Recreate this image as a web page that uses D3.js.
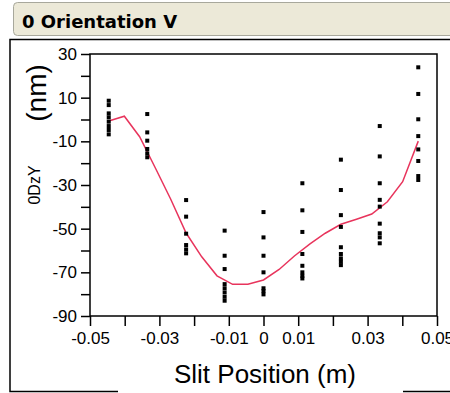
<!DOCTYPE html>
<html>
<head>
<meta charset="UTF-8">
<style>
  body { margin: 0; padding: 0; background: #fff; overflow: hidden; }
  svg { display: block; }
</style>
</head>
<body>
<div id="chart"></div>
<script src="https://cdn.jsdelivr.net/npm/d3@7"></script>
<script>
  // slit positions (m) where the measurements were taken
  const slitPos = [-0.0446, -0.0335, -0.0223, -0.0112, 0, 0.0112, 0.0223, 0.0335, 0.0446];

  // measured 0DzY (nm) at each slit position
  const col1 = [8.6, 6.6, 2.8, 1.0, -1.0, -3.0, -4.8, -6.8];
  const col2 = [2.5, -5.9, -9.7, -13.5, -15.5, -17.3];
  const col3 = [-36.9, -44.5, -52.3, -57.5, -59.5, -61.3];
  const col4 = [-50.9, -62.4, -68.5, -75.4, -77.3, -79.2, -81.2, -83.0];
  const col5 = [-42.4, -54.0, -62.4, -70.0, -77.3, -78.6, -80.1];
  const col6 = [-29.2, -41.6, -51.5, -61.6, -67.0, -70.0, -71.6, -72.8];
  const col7 = [-18.4, -32.3, -43.8, -49.2, -58.5, -61.6, -63.6, -65.1, -66.7];
  const col8 = [-3.0, -16.9, -29.2, -36.8, -39.9, -47.7, -52.1, -54.0, -56.7];
  const col9 = [23.9, 11.7, 0.1, -7.6, -13.7, -19.0, -25.9, -27.7];
  const columns = [col1, col2, col3, col4, col5, col6, col7, col8, col9];

  // fitted curve
  const fitX = [-0.0446, -0.0401, -0.0357, -0.0312, -0.0268, -0.0223, -0.0178, -0.0134, -0.0089, -0.0045, 0,
                0.0045, 0.0089, 0.0134, 0.0178, 0.0223, 0.0268, 0.0312, 0.0357, 0.0401, 0.0446];
  const fitY = [-0.7, 1.5, -7.9, -22.1, -36.3, -52.0, -62.9, -71.6, -75.5, -75.5, -73.5,
                -68.7, -62.5, -57.0, -52.1, -48.0, -45.7, -43.3, -37.7, -28.5, -9.9];

  const yTicks = d3.range(-90, 31, 10);
  const yLabels = [30, 10, -10, -30, -50, -70, -90];
  const xTicks = d3.range(-0.05, 0.0501, 0.01).map(v => +v.toFixed(2));
  const xLabels = [-0.05, -0.03, -0.01, 0, 0.01, 0.03, 0.05];

  const W = 450, H = 393;
  const svg = d3.select("#chart").append("svg").attr("width", W).attr("height", H);

  // title bar
  svg.append("rect")
    .attr("x", 13.5).attr("y", 2.5).attr("width", 450).attr("height", 33)
    .attr("rx", 4)
    .attr("fill", "#ece9d8").attr("stroke", "#a8a89c");
  svg.append("text")
    .attr("x", 22).attr("y", 28)
    .style("font-family", "DejaVu Sans").style("font-weight", "bold").style("font-size", "18px")
    .attr("fill", "#000")
    .text("0 Orientation V");

  // outer frame
  svg.append("rect")
    .attr("x", 10).attr("y", 39.5).attr("width", 460).attr("height", 352)
    .attr("fill", "none").attr("stroke", "#000").attr("stroke-width", 1.5);

  const x = d3.scaleLinear().domain([-0.05, 0.05]).range([90, 437]);
  const y = d3.scaleLinear().domain([-90, 30]).range([316, 54]);

  // plot box
  svg.append("rect")
    .attr("x", x(-0.05)).attr("y", y(30))
    .attr("width", x(0.05) - x(-0.05)).attr("height", y(-90) - y(30))
    .attr("fill", "none").attr("stroke", "#000").attr("stroke-width", 1.5);

  const font = "'Liberation Sans', Arial, sans-serif";

  // y axis
  const yAxis = svg.append("g").attr("transform", `translate(${x(-0.05)},0)`)
    .call(d3.axisLeft(y).tickValues(yTicks).tickSize(9)
      .tickFormat(d => yLabels.includes(d) ? d : ""));
  yAxis.select(".domain").remove();
  yAxis.selectAll("line").attr("stroke", "#000").attr("stroke-width", 1.5);
  yAxis.selectAll("text").style("font-family", font).style("font-size", "17px").attr("fill", "#000").attr("x", -13);

  // x axis
  const xAxis = svg.append("g").attr("transform", `translate(0,${y(-90)})`)
    .call(d3.axisBottom(x).tickValues(xTicks).tickSize(10)
      .tickFormat(d => xLabels.includes(d) ? d3.format("")(d) : ""));
  xAxis.select(".domain").remove();
  xAxis.selectAll("line").attr("stroke", "#000").attr("stroke-width", 1.5);
  xAxis.selectAll("text").style("font-family", font).style("font-size", "17px").attr("fill", "#000")
    .attr("y", 16).attr("dy", "0.71em").text(d => xLabels.includes(d) ? String(d).replace("−", "-") : "");

  // axis titles
  svg.append("text")
    .attr("transform", "translate(46,93) rotate(-90)")
    .attr("text-anchor", "middle")
    .style("font-family", font).style("font-size", "28px")
    .text("(nm)");
  svg.append("text")
    .attr("transform", "translate(40,185) rotate(-90)")
    .attr("text-anchor", "middle")
    .style("font-family", font).style("font-size", "16px")
    .text("0DzY");

  svg.append("rect")
    .attr("x", 118).attr("y", 358).attr("width", 285).attr("height", 35)
    .attr("fill", "#fff");
  svg.append("text")
    .attr("x", 265).attr("y", 383)
    .attr("text-anchor", "middle")
    .style("font-family", font).style("font-size", "26px")
    .text("Slit Position (m)");

  // fitted line
  const line = d3.line().x((d, i) => x(fitX[i])).y(d => y(d));
  svg.append("path")
    .datum(fitY)
    .attr("d", line)
    .attr("fill", "none")
    .attr("stroke", "#e8345c")
    .attr("stroke-width", 1.5);

  // measurement points
  const pts = [];
  columns.forEach((vals, i) => vals.forEach(v => pts.push({ px: slitPos[i], v })));
  svg.append("g").selectAll("rect")
    .data(pts)
    .join("rect")
    .attr("x", d => x(d.px) - 2)
    .attr("y", d => y(d.v) - 2)
    .attr("width", 4).attr("height", 4)
    .attr("fill", "#000");
</script>
</body>
</html>
